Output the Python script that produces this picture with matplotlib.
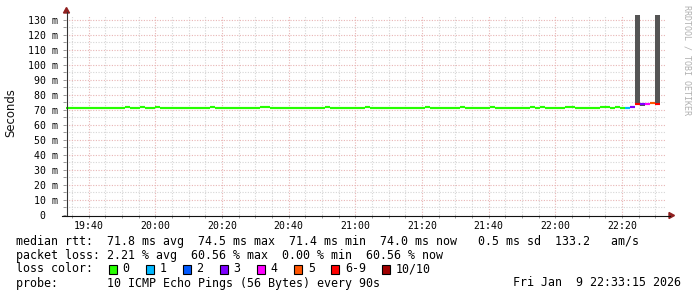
import numpy as np
import matplotlib
matplotlib.use('Agg')
import matplotlib.pyplot as plt
from matplotlib.patches import Rectangle, Polygon
from matplotlib.lines import Line2D

# ---------------- data ----------------
first_sample_min = 19 * 60 + 33      # start of first 90 s sample (minutes after midnight)
step_min = 1.5
median_ms = [
    71.4, 71.4, 71.4, 71.4, 71.4, 71.4, 71.4, 71.4, 71.4, 71.4,
    71.4, 71.4, 72.1, 71.4, 71.4, 72.1, 71.4, 71.4, 72.1, 71.4,
    71.4, 71.4, 71.4, 71.4, 71.4, 71.4, 71.4, 71.4, 71.4, 72.1,
    71.4, 71.4, 71.4, 71.4, 71.4, 71.4, 71.4, 71.4, 71.4, 72.1,
    72.1, 71.4, 71.4, 71.4, 71.4, 71.4, 71.4, 71.4, 71.4, 71.4,
    71.4, 71.4, 72.1, 71.4, 71.4, 71.4, 71.4, 71.4, 71.4, 71.4,
    72.1, 71.4, 71.4, 71.4, 71.4, 71.4, 71.4, 71.4, 71.4, 71.4,
    71.4, 71.4, 72.1, 71.4, 71.4, 71.4, 71.4, 71.4, 71.4, 72.1,
    71.4, 71.4, 71.4, 71.4, 71.4, 72.1, 71.4, 71.4, 71.4, 71.4,
    71.4, 71.4, 71.4, 72.1, 71.4, 72.1, 71.4, 71.4, 71.4, 71.4,
    72.1, 72.1, 71.4, 71.4, 71.4, 71.4, 71.4, 72.1, 72.1, 71.4,
    72.1, 71.4, 71.4, 72.0, 74.3, 74.0, 74.0, 74.5, 73.8,
]
loss_count = [0] * 112 + [1, 3, 7, 3, 4, 5, 6]
smoke_index = [114, 115, 118]
smoke_low_ms = [74.3, 72.7, 73.8]
smoke_high_ms = [250.0, 74.0, 250.0]

x_tick_labels = ['19:40', '20:00', '20:20', '20:40', '21:00', '21:20', '21:40', '22:00', '22:20']
y_tick_values = [0, 10, 20, 30, 40, 50, 60, 70, 80, 90, 100, 110, 120, 130]

loss_labels = ['0', '1', '2', '3', '4', '5', '6-9', '10/10']
loss_colors = ['#26ff00', '#00b8ff', '#0059ff', '#7e00ff', '#ff00ff', '#ff5500', '#ff0000', '#a00000']

stat_median = "median rtt:  71.8 ms avg  74.5 ms max  71.4 ms min  74.0 ms now   0.5 ms sd  133.2   am/s"
stat_loss = "packet loss: 2.21 % avg  60.56 % max  0.00 % min  60.56 % now"
probe_text = "probe:       10 ICMP Echo Pings (56 Bytes) every 90s"
date_text = "Fri Jan  9 22:33:15 2026"
watermark = "RRDTOOL / TOBI OETIKER"

# ---------------- figure ----------------
W, H = 697, 297
fig = plt.figure(figsize=(W / 100, H / 100), dpi=100)
fig.patch.set_facecolor('white')
MONO = 'DejaVu Sans Mono'


def fx(px):
    return px / W


def fy(py):
    return 1 - py / H


ax = fig.add_axes([fx(66), fy(215), 600 / W, 200 / H])
ax.set_facecolor('white')
x0 = 19 * 60 + 33.25
ax.set_xlim(x0, x0 + 180)
ax.set_ylim(0, 133.33)


def loss_bucket(n):
    if n <= 5:
        return n
    if n < 10:
        return 6
    return 7


starts = first_sample_min + step_min * np.arange(len(median_ms))
colors = [loss_colors[loss_bucket(n)] for n in loss_count]

# smoke
sm_x = starts[smoke_index]
sm_lo = np.array(smoke_low_ms)
sm_hi = np.array(smoke_high_ms)
ax.bar(sm_x, sm_hi - sm_lo, bottom=sm_lo, width=step_min, align='edge',
       color='#555555', linewidth=0, zorder=3)

# median line coloured by loss
ax.hlines(median_ms, starts, starts + step_min, colors=colors, linewidth=1.55,
          zorder=4, capstyle='butt')

# ticks & grid
major_x = [19 * 60 + 40 + 20 * i for i in range(len(x_tick_labels))]
ax.set_xticks(major_x)
ax.set_xticklabels(x_tick_labels, fontfamily=MONO, fontsize=7.1)
ax.set_xticks(np.arange(19 * 60 + 35, x0 + 180, 5), minor=True)
ax.set_yticks(y_tick_values)
ax.set_yticklabels([('%d m' % v) if v else '0  ' for v in y_tick_values],
                   fontfamily=MONO, fontsize=7.1)
ax.set_yticks(np.arange(5, 133, 10), minor=True)
ax.tick_params(axis='both', which='both', length=2, width=0.7, color='#999999')
ax.tick_params(axis='y', pad=3.5)
ax.tick_params(axis='x', pad=2.5)
ax.grid(which='major', color='#e8b4b4', linestyle=(0, (1.0, 1.4)), linewidth=0.8, zorder=0)
ax.grid(which='minor', color='#d6d6d6', linestyle=(0, (1.0, 1.4)), linewidth=0.8, zorder=0)
ax.set_axisbelow(True)
for s in ax.spines.values():
    s.set_visible(False)

# axes lines and arrows
fig.add_artist(Line2D([fx(66.5), fx(66.5)], [fy(216), fy(12)], color='#333333', linewidth=0.8))
fig.add_artist(Line2D([fx(62), fx(670)], [fy(215.5), fy(215.5)], color='#111111', linewidth=0.8))
fig.add_artist(Polygon([[fx(63.5), fy(13)], [fx(69.5), fy(13)], [fx(66.5), fy(7.5)]],
                       closed=True, color='#902020', transform=fig.transFigure))
fig.add_artist(Polygon([[fx(669), fy(212.5)], [fx(669), fy(218.5)], [fx(674.5), fy(215.5)]],
                       closed=True, color='#902020', transform=fig.transFigure))

# y label
fig.text(fx(11), fy(113), 'Seconds', rotation=90, ha='center', va='center',
         fontsize=8.4, family='DejaVu Sans', color='#111111')

# watermark
fig.text(fx(687), fy(5), watermark, rotation=-90, ha='center', va='top',
         fontsize=6.0, family=MONO, color='#b0b0b0')

# bottom text
fs = 8.4
fig.text(fx(16), fy(241), stat_median, ha='left', va='center', fontsize=fs, family=MONO)
fig.text(fx(16), fy(255), stat_loss, ha='left', va='center', fontsize=fs, family=MONO)
fig.text(fx(16), fy(269), 'loss color:', ha='left', va='center', fontsize=fs, family=MONO)
fig.text(fx(16), fy(283), probe_text, ha='left', va='center', fontsize=fs, family=MONO)
fig.text(fx(681), fy(283), date_text, ha='right', va='center', fontsize=fs, family=MONO)

cw = 7.05
bx = 108.5
for lab, col in zip(loss_labels, loss_colors):
    fig.add_artist(Rectangle((fx(bx), fy(273.5)), 8 / W, 9 / H, facecolor=col,
                             edgecolor='black', linewidth=0.8, transform=fig.transFigure))
    fig.text(fx(bx + 14), fy(269), lab, ha='left', va='center', fontsize=fs, family=MONO)
    bx += 14 + len(lab) * cw + 16

fig.savefig('out.png', dpi=100)
